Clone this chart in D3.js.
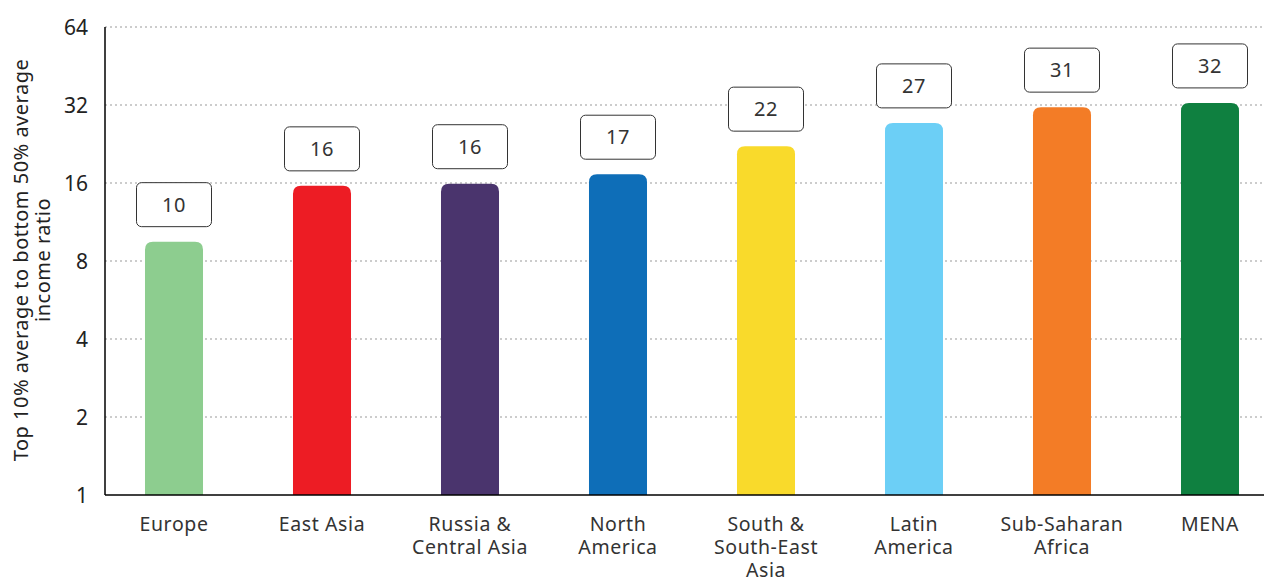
<!DOCTYPE html>
<html><head><meta charset="utf-8">
<script src="https://cdn.jsdelivr.net/npm/d3@7"></script>
<style>
body{margin:0;background:#fff;}
text{font-family:"Noto Sans","Open Sans",sans-serif;}
</style></head>
<body><svg id="c" width="1264" height="579"></svg>
<script>
const categories = [["Europe"],["East Asia"],["Russia &","Central Asia"],["North","America"],["South &","South-East","Asia"],["Latin","America"],["Sub-Saharan","Africa"],["MENA"]];
const values = [9.5, 15.6, 15.9, 17.3, 22.2, 27.3, 31.4, 32.6];
const labels = ["10","16","16","17","22","27","31","32"];
const colors = ["#8dcd8f","#ed1c24","#4a346d","#0e6eb8","#f9da2b","#6ccff6","#f37c26","#0f8040"];
const yTicks = [1,2,4,8,16,32,64];
const yTitle = ["Top 10% average to bottom 50% average","income ratio"];

const svg = d3.select("#c");
const mLeft = 105, mRight = 1264, mTop = 27, mBottom = 495;
const names = categories.map(c => c.join(" "));
const x = d3.scaleBand().domain(names).range([100,1284]).paddingInner(0.608).paddingOuter(0.304);
const y = d3.scaleLog().base(2).domain([1,64]).range([mBottom, mTop]);

// gridlines
svg.append("g").selectAll("line").data(yTicks.slice(1)).join("line")
  .attr("x1", mLeft).attr("x2", mRight).attr("y1", d=>y(d)).attr("y2", d=>y(d))
  .attr("stroke","#999").attr("stroke-width",1).attr("stroke-dasharray","2,3");

// bars
const r = 8;
svg.append("g").selectAll("path").data(values).join("path")
  .attr("fill",(d,i)=>colors[i])
  .attr("d",(d,i)=>{
    const x0 = x(names[i]), w = x.bandwidth(), yt = y(d), yb = y(1);
    return `M${x0},${yb}V${yt+r}Q${x0},${yt} ${x0+r},${yt}H${x0+w-r}Q${x0+w},${yt} ${x0+w},${yt+r}V${yb}Z`;
  });

// value boxes
const bw = 75, bh = 44;
const lg = svg.append("g").selectAll("g").data(values).join("g")
  .attr("transform",(d,i)=>`translate(${x(names[i])+x.bandwidth()/2},${y(d)-37})`);
lg.append("rect").attr("x",-bw/2).attr("y",-bh/2).attr("width",bw).attr("height",bh)
  .attr("rx",5).attr("fill","#fff").attr("stroke","#333").attr("stroke-width",1);
lg.append("text").attr("text-anchor","middle").attr("dy","0.36em")
  .attr("font-size",20).attr("fill","#333").attr("letter-spacing",0.5).text((d,i)=>labels[i]);

// axes lines
svg.append("line").attr("x1",mLeft).attr("x2",mLeft).attr("y1",mTop).attr("y2",mBottom).attr("stroke","#000").attr("stroke-width",1.5);
svg.append("line").attr("x1",mLeft).attr("x2",mRight).attr("y1",mBottom).attr("y2",mBottom).attr("stroke","#000").attr("stroke-width",1.5);

// y tick labels
svg.append("g").selectAll("text").data(yTicks).join("text")
  .attr("x",88).attr("y",d=>y(d)).attr("dy","0.36em").attr("text-anchor","end")
  .attr("font-size",21).attr("fill","#222").text(d=>d);

// y title
const ytl = svg.append("text").attr("transform","translate(0,260) rotate(-90)")
  .attr("text-anchor","middle").attr("font-size",20).attr("letter-spacing",0.5).attr("fill","#222");
yTitle.forEach((t,i)=>ytl.append("tspan").attr("x",0).attr("y",28+i*22).text(t));

// x labels
const xl = svg.append("g").selectAll("text").data(categories).join("text")
  .attr("text-anchor","middle").attr("font-size",19.5).attr("fill","#333").attr("letter-spacing",0.6)
  .attr("transform",(d,i)=>`translate(${x(names[i])+x.bandwidth()/2},0)`);
xl.selectAll("tspan").data(d=>d).join("tspan").attr("x",0).attr("y",(d,j)=>531+j*23).text(d=>d);
</script></body></html>
